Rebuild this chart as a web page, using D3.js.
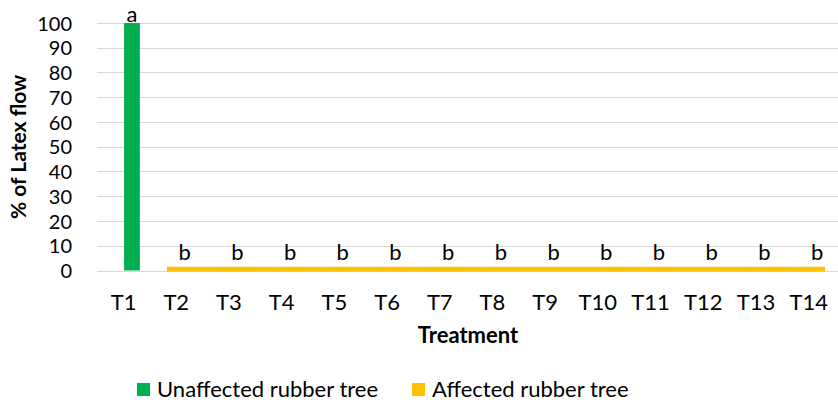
<!DOCTYPE html>
<html>
<head>
<meta charset="utf-8">
<script src="https://cdn.jsdelivr.net/npm/d3@7"></script>
<style>
  body { margin: 0; background: #fff; }
  text { font-family: Lato, "Open Sans", sans-serif; fill: #000; }
</style>
</head>
<body>
<div class="canva"></div>
<script>
// data
const categories = ["T1", "T2", "T3", "T4", "T5", "T6", "T7", "T8", "T9", "T10", "T11", "T12", "T13", "T14"];
const unaffected = [100, 0, 0, 0, 0, 0, 0, 0, 0, 0, 0, 0, 0, 0];
const affected = [0, 1.5, 1.5, 1.5, 1.5, 1.5, 1.5, 1.5, 1.5, 1.5, 1.5, 1.5, 1.5, 1.5];
const letters = ["a", "b", "b", "b", "b", "b", "b", "b", "b", "b", "b", "b", "b", "b"];
const yTicks = [0, 10, 20, 30, 40, 50, 60, 70, 80, 90, 100];
const seriesNames = ["Unaffected rubber tree", "Affected rubber tree"];

var width = 838;
var height = 403;
var green = "#00B050";
var yellow = "#FFC000";

const svg = d3.select(".canva").append("svg")
    .attr("width", width)
    .attr("height", height);

const x = d3.scaleBand()
    .domain(categories)
    .range([97.2, 835]);
const step = x.step();

const y = d3.scaleLinear()
    .domain([0, 100])
    .range([270.5, 23]);

// gridlines
svg.append("g")
    .selectAll("line")
    .data(yTicks)
    .enter().append("line")
    .attr("x1", 97)
    .attr("x2", width)
    .attr("y1", d => Math.round(y(d)) + 0.5)
    .attr("y2", d => Math.round(y(d)) + 0.5)
    .style("stroke", "#d9d9d9")
    .style("stroke-width", 1);

// y axis labels
const yAxis = d3.axisLeft(y).tickValues(yTicks).tickSize(0).tickPadding(0);
const yg = svg.append("g")
    .attr("transform", "translate(72,0)")
    .call(yAxis);
yg.select(".domain").remove();
yg.selectAll("text")
    .attr("x", 0)
    .attr("dy", "0.35em")
    .style("font-size", "20px")
    .style("font-family", "Lato, sans-serif")
    .style("fill", "#000");

// x axis labels
const xAxis = d3.axisBottom(x).tickSize(0).tickPadding(0);
const xg = svg.append("g")
    .attr("transform", "translate(0,302)")
    .call(xAxis);
xg.select(".domain").remove();
xg.selectAll("text")
    .attr("y", 0)
    .attr("dy", "0.36em")
    .style("font-size", "22px")
    .style("font-family", "Lato, sans-serif")
    .style("fill", "#000");

// affected bars (drawn touching each other)
svg.append("g")
    .selectAll("rect")
    .data(categories.map((c, i) => ({ c: c, v: affected[i], i: i })).filter(d => d.v > 0))
    .enter().append("rect")
    .attr("x", d => x(d.c) + step * 0.325)
    .attr("width", d => d.i < categories.length - 1 ? step + 0.5 : step * 0.485)
    .attr("y", d => y(d.v))
    .attr("height", d => y(0) - y(d.v) + 1.2)
    .style("fill", yellow);

// unaffected bars
svg.append("g")
    .selectAll("rect")
    .data(categories.map((c, i) => ({ c: c, v: unaffected[i] })).filter(d => d.v > 0))
    .enter().append("rect")
    .attr("x", d => x(d.c) + step * 0.51)
    .attr("width", step * 0.3)
    .attr("y", d => y(d.v))
    .attr("height", d => y(0) - y(d.v))
    .style("fill", green);

// significance letters
svg.append("g")
    .selectAll("text")
    .data(categories.map((c, i) => ({ c: c, l: letters[i], v: Math.max(unaffected[i], affected[i]), big: unaffected[i] > 0 })))
    .enter().append("text")
    .attr("x", d => x(d.c) + step * 0.66)
    .attr("y", d => y(d.v) - (d.big ? 1.5 : 6.5))
    .attr("text-anchor", "middle")
    .style("font-size", "22px")
    .text(d => d.l);

// axis titles
svg.append("text")
    .attr("transform", "translate(26,147) rotate(-90)")
    .attr("text-anchor", "middle")
    .style("font-size", "21px")
    .style("font-weight", "bold")
    .text("% of Latex flow");

svg.append("text")
    .attr("x", 468)
    .attr("y", 343)
    .attr("text-anchor", "middle")
    .style("font-size", "22px")
    .style("font-weight", "bold")
    .text("Treatment");

// legend
const legend = svg.append("g")
    .selectAll("g")
    .data(seriesNames)
    .enter().append("g")
    .attr("transform", (d, i) => "translate(" + [137, 412][i] + ",383)");

legend.append("rect")
    .attr("width", 13)
    .attr("height", 13)
    .style("fill", (d, i) => [green, yellow][i]);

legend.append("text")
    .attr("x", 20)
    .attr("y", 14)
    .style("font-size", "22px")
    .text(d => d);
</script>
</body>
</html>
